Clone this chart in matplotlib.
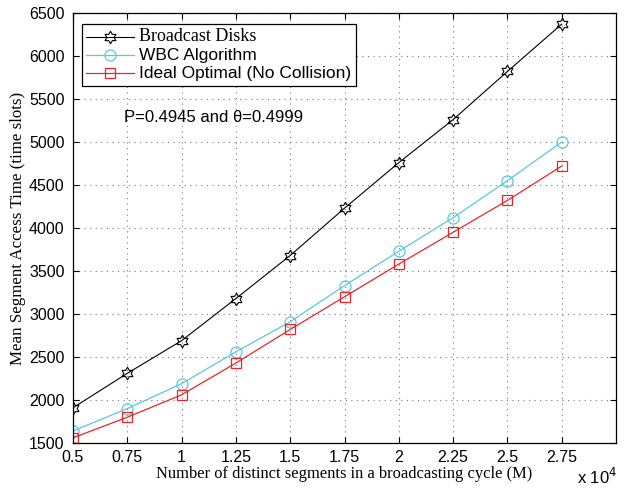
import numpy as np
import matplotlib
matplotlib.use("Agg")
import matplotlib.pyplot as plt
from matplotlib.path import Path

x_vals = [0.5, 0.75, 1.0, 1.25, 1.5, 1.75, 2.0, 2.25, 2.5, 2.75]
broadcast = [1910, 2310, 2690, 3180, 3680, 4230, 4760, 5260, 5820, 6370]
wbc = [1640, 1900, 2190, 2560, 2910, 3330, 3730, 4120, 4550, 5000]
ideal = [1560, 1800, 2060, 2430, 2820, 3200, 3580, 3950, 4320, 4720]
x_ticks = [0.5, 0.75, 1, 1.25, 1.5, 1.75, 2, 2.25, 2.5, 2.75]
x_ticklabels = ["0.5", "0.75", "1", "1.25", "1.5", "1.75", "2", "2.25", "2.5", "2.75"]
y_ticks = [1500, 2000, 2500, 3000, 3500, 4000, 4500, 5000, 5500, 6000, 6500]

# hexagram marker
ang_out = np.deg2rad(90 + 60 * np.arange(6))
ang_in = ang_out + np.deg2rad(30)
r_in = 1 / np.sqrt(3)
verts = []
for a, b in zip(ang_out, ang_in):
    verts.append((np.cos(a), np.sin(a)))
    verts.append((r_in * np.cos(b), r_in * np.sin(b)))
verts.append(verts[0])
hexagram = Path(verts, [Path.MOVETO] + [Path.LINETO] * 11 + [Path.CLOSEPOLY])

fig = plt.figure(figsize=(6.25, 4.9), dpi=100)
ax = fig.add_axes([0.1168, 0.0959, 0.8688, 0.8776])

sans = "Liberation Sans"
serif = "Liberation Serif"

ax.plot(x_vals, broadcast, color="black", lw=0.8, marker=hexagram, ms=9,
        mfc="none", mec="black", mew=0.8, label="Broadcast Disks")
ax.plot(x_vals, wbc, color="#5BC8DC", lw=0.9, marker="o", ms=8,
        mfc="none", mec="#5BC8DC", mew=0.9, label="WBC Algorithm")
ax.plot(x_vals, ideal, color="#E8262A", lw=0.9, marker="s", ms=7,
        mfc="none", mec="#E8262A", mew=0.9, label="Ideal Optimal (No Collision)")

ax.set_xlim(0.5, 3.0)
ax.set_ylim(1500, 6500)
ax.set_xticks(x_ticks)
ax.set_xticklabels(x_ticklabels, fontname=sans, fontsize=11.5)
ax.set_yticks(y_ticks)
ax.set_yticklabels([str(v) for v in y_ticks], fontname=sans, fontsize=11.5)
ax.tick_params(direction="in", top=True, right=True, length=4, width=0.8)
ax.tick_params(axis="y", pad=6)
ax.tick_params(axis="x", pad=5)
ax.grid(True, linestyle=(0, (1, 4)), color="#777777", lw=0.8)
for s in ax.spines.values():
    s.set_linewidth(0.9)

ax.set_xlabel("Number of distinct segments in a broadcasting cycle (M)",
              fontname=serif, fontsize=11.9, labelpad=1)
ax.set_ylabel("Mean Segment Access Time (time slots)", fontname=serif,
              fontsize=12.2, labelpad=2)

ax.text(0.735, 5280, "P=0.4945 and \u03b8=0.4999", fontname=sans, fontsize=12,
        va="center", ha="left")

fig.text(0.923, 0.006, "x 10$^4$", fontname=sans, fontsize=12, ha="left", va="bottom")

leg = ax.legend(loc="upper left", bbox_to_anchor=(0.008, 0.985), fancybox=False,
                edgecolor="black", framealpha=1, borderpad=0.35, labelspacing=0.2,
                handlelength=3.4, handletextpad=0.4, borderaxespad=0.3)
leg.get_frame().set_linewidth(0.9)
texts = leg.get_texts()
texts[0].set_fontname(serif)
texts[0].set_fontsize(13)
for t in texts[1:]:
    t.set_fontname(sans)
    t.set_fontsize(12.5)

fig.savefig("out.png", dpi=100)
